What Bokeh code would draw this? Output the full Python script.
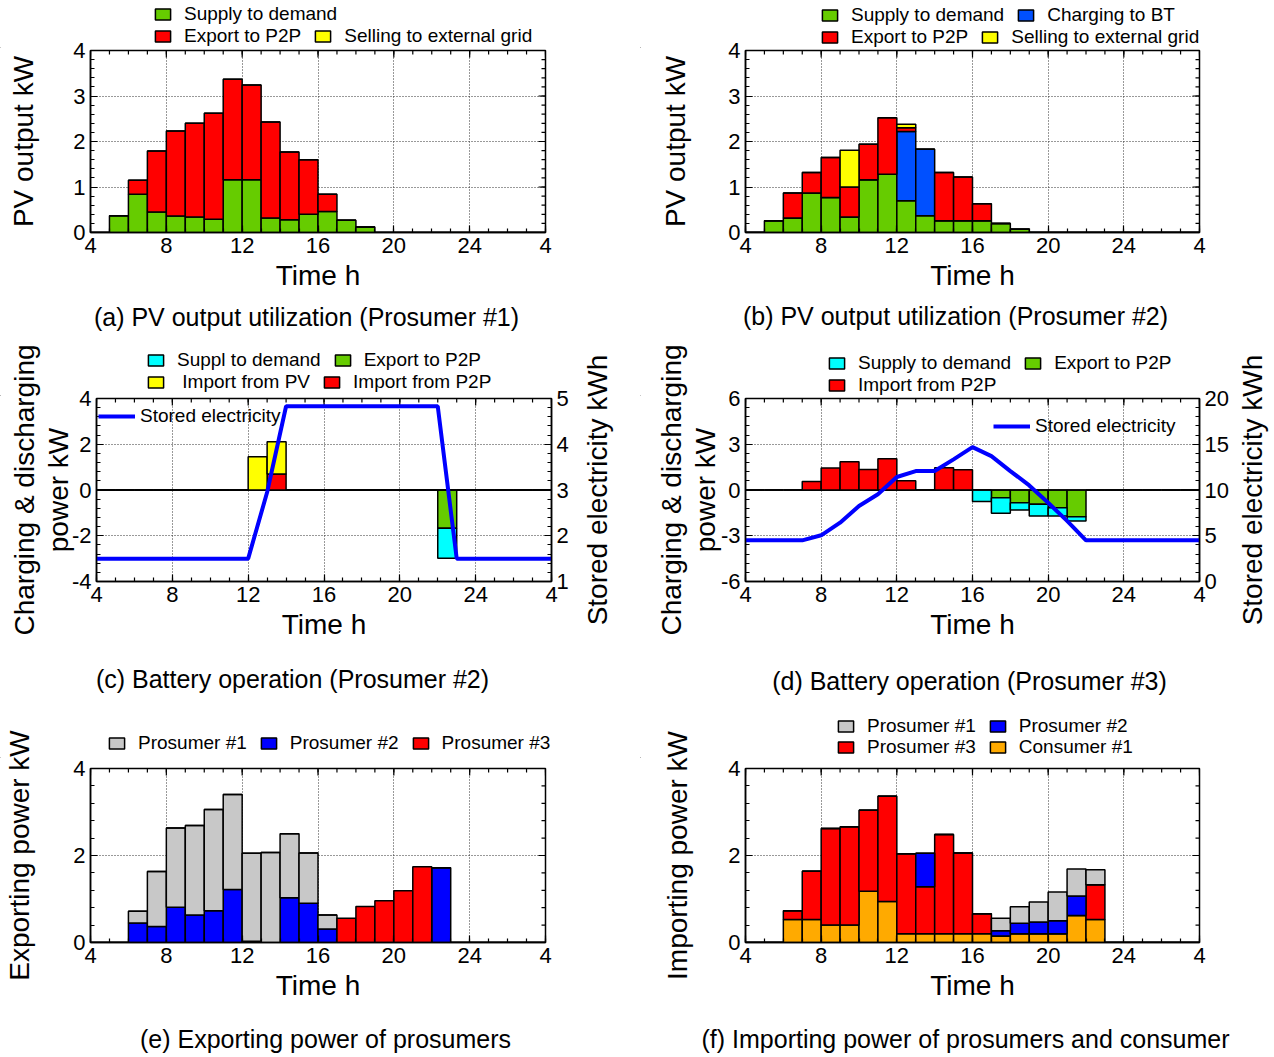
import math
from bokeh.plotting import figure
from bokeh.models import (Range1d, LinearAxis, FixedTicker, Legend, LegendItem, Label, Title,
                          ColumnDataSource)
from bokeh.layouts import column, row
from bokeh.embed import file_html
from bokeh.resources import INLINE

FONT = "Liberation Sans"

# ---------------- data (hour slots 4..27, bar spans [h, h+1]) ----------------
hours = list(range(4, 28))
line_hours = list(range(4, 29))
x_ticks = [4, 8, 12, 16, 20, 24, 28]
x_tick_text = {28: "4"}

# (a) PV output utilization, Prosumer #1 (kW)
a_supply = [0, .37, .84, .45, .36, .34, .29, 1.16, 1.16, .32, .28, .40, .46, .27, .12, 0, 0, 0, 0, 0, 0, 0, 0, 0]
a_export = [0, 0, .31, 1.34, 1.87, 2.06, 2.33, 2.21, 2.08, 2.11, 1.49, 1.20, .38, 0, 0, 0, 0, 0, 0, 0, 0, 0, 0, 0]
a_sell   = [0] * 24

# (b) PV output utilization, Prosumer #2 (kW)
b_supply = [0, .26, .32, .87, .77, .34, 1.16, 1.28, .70, .37, .26, .26, .26, .20, .07, 0, 0, 0, 0, 0, 0, 0, 0, 0]
b_charge = [0, 0, 0, 0, 0, 0, 0, 0, 1.52, 1.46, 0, 0, 0, 0, 0, 0, 0, 0, 0, 0, 0, 0, 0, 0]
b_export = [0, 0, .55, .45, .88, .66, .78, 1.24, .08, 0, 1.06, .96, .37, 0, 0, 0, 0, 0, 0, 0, 0, 0, 0, 0]
b_sell   = [0, 0, 0, 0, 0, .81, 0, 0, .08, 0, 0, 0, 0, 0, 0, 0, 0, 0, 0, 0, 0, 0, 0, 0]

# (c) Battery operation, Prosumer #2 (kW) and stored energy (kWh)
c_supply = [0] * 18 + [-1.31] + [0] * 5
c_export = [0] * 18 + [-1.67] + [0] * 5
c_pv     = [0] * 8 + [1.45, 1.41] + [0] * 14
c_p2p    = [0] * 9 + [0.70] + [0] * 14
c_stored = [1.5] * 9 + [2.95, 4.83, 4.83, 4.83, 4.83, 4.83, 4.83, 4.83, 4.83, 4.83, 1.5, 1.5, 1.5, 1.5, 1.5, 1.5]

# (d) Battery operation, Prosumer #3
d_supply = [0] * 12 + [-.75, -1.03, -.48, -.76, -.54, -.28] + [0] * 6
d_export = [0] * 13 + [-.50, -.83, -.94, -1.16, -1.75] + [0] * 6
d_p2p    = [0, 0, 0, .55, 1.44, 1.85, 1.35, 2.05, .61, 0, 1.46, 1.33] + [0] * 12
d_stored = [4.5, 4.5, 4.5, 4.5, 5.05, 6.43, 8.25, 9.53, 11.42, 12.07, 12.07, 13.35, 14.69,
            13.7, 12.07, 10.5, 8.6, 6.62, 4.5, 4.5, 4.5, 4.5, 4.5, 4.5, 4.5]

# (e) Exporting power of prosumers (kW)
e_p1 = [0, 0, .27, 1.26, 1.82, 2.06, 2.33, 2.18, 2.02, 2.07, 1.47, 1.16, .32, 0, 0, 0, 0, 0, 0, 0, 0, 0, 0, 0]
e_p2 = [0, 0, .45, .37, .81, .63, .73, 1.22, .03, 0, 1.03, .90, .31, 0, 0, 0, 0, 0, 1.72, 0, 0, 0, 0, 0]
e_p3 = [0] * 13 + [.56, .83, .96, 1.19, 1.74] + [0] * 6

# (f) Importing power of prosumers and consumer (kW)
f_c1 = [0, 0, .53, .53, .40, .40, 1.18, .94, .20, .20, .20, .20, .20, .15, .20, .20, .20, .62, .53, 0, 0, 0, 0, 0]
f_p3 = [0, 0, .20, 1.11, 2.22, 2.26, 1.86, 2.42, 1.84, 1.08, 2.28, 1.86, .46, 0, 0, 0, 0, 0, .80, 0, 0, 0, 0, 0]
f_p2 = [0] * 9 + [.77, 0, 0, 0, .12, .24, .27, .30, .45] + [0] * 6
f_p1 = [0] * 13 + [.29, .38, .46, .66, .62, .34] + [0] * 5

GREEN, RED, YELLOW = "#66CC00", "#FF0000", "#FFFF00"
BLUE_BT, BLUE = "#0050FF", "#0000FF"
CYAN, GRAY, ORANGE = "#00FFFF", "#C8C8C8", "#FFAA00"


def style_axis(ax):
    ax.major_tick_in = 7
    ax.major_tick_out = 0
    ax.minor_tick_in = 4
    ax.minor_tick_out = 0
    ax.axis_line_color = "black"
    ax.axis_line_width = 1.5
    ax.major_tick_line_color = "black"
    ax.minor_tick_line_color = "black"
    ax.major_tick_line_width = 1.2
    ax.minor_tick_line_width = 1.2
    ax.major_label_text_font = FONT
    ax.major_label_text_font_size = "22px"
    ax.major_label_text_color = "black"
    ax.major_label_standoff = 5
    ax.axis_label_text_font = FONT
    ax.axis_label_text_font_size = "28px"
    ax.axis_label_text_font_style = "normal"
    ax.axis_label_text_color = "black"


def inner_ticks(p, length, xs=None, y_at=None, ys=None, x_at=None):
    # short inward tick marks on the top / right frame edges
    if ys is None:
        p.ray(x=xs, y=[y_at] * len(xs), length=length, length_units="screen",
              angle=-math.pi / 2, line_color="black", line_width=1.2)
    else:
        p.ray(x=[x_at] * len(ys), y=ys, length=length, length_units="screen",
              angle=math.pi, line_color="black", line_width=1.2)


def make_fig(width, height, overlap, left, right, top, bottom, y0, y1, y_major, y_minor_n,
             ylabel, ylabel_standoff, right_range=None, right_major=None):
    # the figure reaches `overlap` px up under the (transparent) legend strip above it
    p = figure(width=width, height=height + overlap, x_range=Range1d(4, 28),
               y_range=Range1d(y0, y1), output_backend="svg", toolbar_location=None,
               min_border_left=left, min_border_right=right,
               min_border_top=top + overlap, min_border_bottom=bottom)
    p.margin = (-overlap, 0, 0, 0)
    p.border_fill_alpha = 0
    p.outline_line_color = "black"
    p.outline_line_width = 1.5
    xt = FixedTicker(ticks=x_ticks, minor_ticks=list(range(4, 29)))
    step = (y_major[1] - y_major[0]) / y_minor_n
    n = int(round((y1 - y0) / step))
    y_minor = [y0 + k * step for k in range(n + 1)]
    yt = FixedTicker(ticks=y_major, minor_ticks=y_minor)
    xa = p.xaxis[0]
    xa.ticker = xt
    xa.axis_label = "Time h"
    style_axis(xa)
    xa.major_label_overrides = x_tick_text
    xa.axis_label_standoff = 4
    ya = p.yaxis[0]
    ya.ticker = yt
    ya.axis_label = ylabel
    style_axis(ya)
    ya.major_label_overrides = {t: "-%d" % abs(t) for t in y_major if t < 0}
    ya.axis_label_standoff = ylabel_standoff
    ya.axis_label_text_line_height = 1.1
    inner_ticks(p, 7, xs=x_ticks, y_at=y1)
    inner_ticks(p, 4, xs=list(range(4, 29)), y_at=y1)
    if right_range is None:
        inner_ticks(p, 7, ys=y_major, x_at=28)
        inner_ticks(p, 4, ys=y_minor, x_at=28)
    else:
        p.extra_y_ranges = {"kwh": right_range}
        rs = (right_major[1] - right_major[0]) / 5
        rn = int(round((right_range.end - right_range.start) / rs))
        rt = FixedTicker(ticks=right_major,
                         minor_ticks=[right_range.start + k * rs for k in range(rn + 1)])
        r_ax = LinearAxis(ticker=rt, y_range_name="kwh")
        style_axis(r_ax)
        p.add_layout(r_ax, "right")
    for g in (p.xgrid[0], p.ygrid[0]):
        g.grid_line_color = "#333333"
        g.grid_line_dash = "1 2"
        g.grid_line_width = 1
    p.xgrid[0].ticker = xt
    p.ygrid[0].ticker = yt
    return p


def stack(p, names, data, colors):
    src = ColumnDataSource(dict(x=[h + 0.5 for h in hours], **dict(zip(names, data))))
    return p.vbar_stack(names, x="x", width=1, source=src, fill_color=colors,
                        line_color="black", line_width=1.5)


def strip(width, height):
    s = figure(width=width, height=height, x_range=Range1d(0, 1), y_range=Range1d(0, 1),
               output_backend="svg", toolbar_location=None, min_border=0,
               x_axis_location=None, y_axis_location=None)
    s.border_fill_alpha = 0
    s.background_fill_alpha = 0
    s.outline_line_color = None
    s.grid.visible = False
    return s


def side_title(width, height, overlap, left, top, bottom, label, offset):
    # narrow strip whose left panel carries the bottom-to-top kWh axis title
    s = figure(width=width, height=height + overlap, x_range=Range1d(0, 1), y_range=Range1d(0, 1),
               output_backend="svg", toolbar_location=None,
               min_border_left=left, min_border_right=0,
               min_border_top=top + overlap, min_border_bottom=bottom,
               x_axis_location=None, y_axis_location=None)
    s.margin = (-overlap, 0, 0, 0)
    s.border_fill_alpha = 0
    s.background_fill_alpha = 0
    s.outline_line_color = None
    s.grid.visible = False
    s.add_layout(Title(text=label, align="center", offset=offset, standoff=6,
                       text_font=FONT, text_font_size="28px", text_font_style="normal",
                       text_color="black"), "left")
    return s


def make_legend(p, items, x, y, glyph_w=19, glyph_h=14, standoff=12):
    lg = Legend(items=[LegendItem(label=t, renderers=[r]) for t, r in items],
                location=(x, y), orientation="horizontal", padding=0, margin=0,
                spacing=12, label_standoff=standoff, glyph_width=glyph_w, glyph_height=glyph_h,
                label_height=14, label_text_font=FONT, label_text_font_size="19px",
                label_text_color="black", background_fill_alpha=0, border_line_alpha=0)
    p.add_layout(lg)


def swatch(s, color):
    # legend-only renderer kept outside the strip's visible range
    return s.vbar(x=[-1], top=[-1], width=1, fill_color=color, line_color="black", line_width=1.5)


def text(s, t, x, y, size="25px"):
    s.add_layout(Label(x=x, y=y, x_units="screen", y_units="screen", text=t,
                       text_align="center", text_baseline="middle", text_font=FONT,
                       text_font_size=size, text_color="black"))


# ================= row 1 =================
La, Lb = strip(640, 48), strip(634, 48)
make_legend(La, [("Supply to demand", swatch(La, GREEN))], 153, 23)
make_legend(La, [("Export to P2P", swatch(La, RED)),
                 ("Selling to external grid", swatch(La, YELLOW))], 153, 1)
make_legend(Lb, [("Supply to demand", swatch(Lb, GREEN)),
                 ("Charging to BT", swatch(Lb, BLUE_BT))], 180, 22)
make_legend(Lb, [("Export to P2P", swatch(Lb, RED)),
                 ("Selling to external grid", swatch(Lb, YELLOW))], 180, 0)

pa = make_fig(640, 252, 48, 90, 95, 2, 68, 0, 4, [0, 1, 2, 3, 4], 5, "PV output kW", 31)
stack(pa, ["s", "e", "g"], [a_supply, a_export, a_sell], [GREEN, RED, YELLOW])
pb = make_fig(634, 252, 48, 105, 75, 2, 68, 0, 4, [0, 1, 2, 3, 4], 5, "PV output kW", 34)
stack(pb, ["s", "c", "e", "g"], [b_supply, b_charge, b_export, b_sell],
      [GREEN, BLUE_BT, RED, YELLOW])

Ca, Cb = strip(640, 40), strip(634, 40)
text(Ca, "(a) PV output utilization (Prosumer #1)", 306, 24)
text(Cb, "(b) PV output utilization (Prosumer #2)", 315, 25)

# ================= row 2 =================
Lc, Ld = strip(640, 56), strip(634, 56)
make_legend(Lc, [("Suppl to demand", swatch(Lc, CYAN)),
                 ("Export to P2P", swatch(Lc, GREEN))], 146, 25)
make_legend(Lc, [(" Import from PV", swatch(Lc, YELLOW)),
                 ("Import from P2P", swatch(Lc, RED))], 146, 3)
make_legend(Ld, [("Supply to demand", swatch(Ld, CYAN)),
                 ("Export to P2P", swatch(Ld, GREEN))], 187, 22)
make_legend(Ld, [("Import from P2P", swatch(Ld, RED))], 187, 0)

pc = make_fig(576, 259, 56, 96, 25, 2, 74, -4, 4, [-4, -2, 0, 2, 4], 5,
              "Charging & discharging\npower kW", -5, Range1d(1, 5), [1, 2, 3, 4, 5])
stack(pc, ["ex", "su"], [c_export, c_supply], [GREEN, CYAN])
stack(pc, ["p2p", "pv"], [c_p2p, c_pv], [RED, YELLOW])
lc = pc.line(line_hours, c_stored, y_range_name="kwh", line_color=BLUE, line_width=4)
make_legend(pc, [("Stored electricity", lc)], 2, 154, glyph_w=37, glyph_h=22, standoff=5)
Rc = side_title(64, 259, 56, 37, 2, 74, "Stored electricity kWh", -18)

pd_ = make_fig(591, 259, 56, 105, 32, 2, 74, -6, 6, [-6, -3, 0, 3, 6], 5,
               "Charging & discharging\npower kW", -3, Range1d(0, 20), [0, 5, 10, 15, 20])
stack(pd_, ["ex", "su"], [d_export, d_supply], [GREEN, CYAN])
stack(pd_, ["p2p"], [d_p2p], [RED])
ld = pd_.line(line_hours, d_stored, y_range_name="kwh", line_color=BLUE, line_width=4)
make_legend(pd_, [("Stored electricity", ld)], 248, 144, glyph_w=37, glyph_h=22, standoff=5)
Rd = side_title(43, 259, 56, 34, 2, 74, "Stored electricity kWh", -20)

Cc, Cd = strip(640, 50), strip(634, 50)
text(Cc, "(c) Battery operation (Prosumer #2)", 292, 27)
text(Cd, "(d) Battery operation (Prosumer #3)", 329, 25)

# ================= row 3 =================
Le, Lf = strip(640, 53), strip(634, 53)
make_legend(Le, [("Prosumer #1", swatch(Le, GRAY)), ("Prosumer #2", swatch(Le, BLUE)),
                 ("Prosumer #3", swatch(Le, RED))], 107, 4)
make_legend(Lf, [("Prosumer #1", swatch(Lf, GRAY)), ("Prosumer #2", swatch(Lf, BLUE))], 196, 21)
make_legend(Lf, [("Prosumer #3", swatch(Lf, RED)), ("Consumer #1", swatch(Lf, ORANGE))], 196, 0)

pe = make_fig(640, 256, 53, 90, 95, 10, 66, 0, 4, [0, 2, 4], 5, "Exporting power kW", 35)
stack(pe, ["p2", "p1", "p3"], [e_p2, e_p1, e_p3], [BLUE, GRAY, RED])
pf = make_fig(634, 256, 53, 105, 75, 2, 72, 0, 4, [0, 2, 4], 5, "Importing power kW", 32)
stack(pf, ["c1", "p3", "p2", "p1"], [f_c1, f_p3, f_p2, f_p1], [ORANGE, RED, BLUE, GRAY])

Ce, Cf = strip(640, 41), strip(634, 41)
text(Ce, "(e) Exporting power of prosumers", 325, 17)
text(Cf, "(f) Importing power of prosumers and consumer", 325, 17)

layout = column(row(La, Lb), row(pa, pb), row(Ca, Cb),
                row(Lc, Ld), row(pc, Rc, pd_, Rd), row(Cc, Cd),
                row(Le, Lf), row(pe, pf), row(Ce, Cf))
open("out.html", "w").write(file_html(layout, INLINE))
